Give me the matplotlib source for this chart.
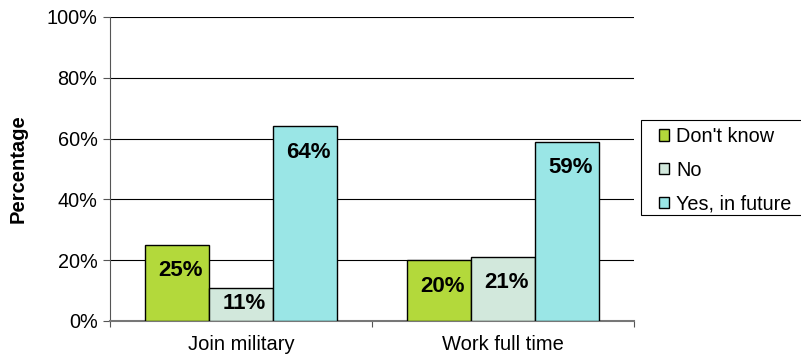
import matplotlib
matplotlib.use("Agg")
import matplotlib.pyplot as plt
from matplotlib.patches import Rectangle
import numpy as np

plt.rcParams["font.family"] = ["Liberation Sans", "DejaVu Sans"]

categories = ["Join military", "Work full time"]
series = ["Don't know", "No", "Yes, in future"]
dont_know = [25, 20]
no = [11, 21]
yes_future = [64, 59]
values = [dont_know, no, yes_future]
colors = ["#b3d93b", "#d2e8dc", "#9ae6e6"]

fig = plt.figure(figsize=(8.01, 3.62), dpi=100)
ax = fig.add_axes([110 / 801, 41 / 362, 524 / 801, 304 / 362])

x = np.arange(len(categories)) + 0.5
width = 64 / 262
for i, (name, vals, col) in enumerate(zip(series, values, colors)):
    xs = x + (i - 1) * width
    ax.bar(xs, vals, width, color=col, edgecolor="black", linewidth=1,
           label=name, zorder=3)
    for xi, v in zip(xs, vals):
        ax.text(xi + 0.012, max(v - 8.5, 5.9), f"{v}%", ha="center", va="center",
                fontsize=16, fontweight="bold", zorder=4)

ax.set_xlim(0, 2)
ax.set_ylim(0, 100)
ax.set_yticks(np.arange(0, 101, 20))
ax.set_yticklabels([f"{t}%" for t in range(0, 101, 20)], fontsize=14.3)
ax.yaxis.grid(True, color="black", linewidth=0.8, zorder=0)
ax.set_axisbelow(True)

ax.set_xticks([0, 1, 2])
ax.set_xticklabels(["", "", ""])
ax.set_xticks(x, minor=True)
ax.set_xticklabels(categories, minor=True, fontsize=14.5)
ax.tick_params(axis="x", which="minor", length=0, pad=10)
ax.tick_params(axis="x", which="major", length=4, color="#555555")
ax.tick_params(axis="y", length=5, color="#555555", pad=4)

for s in ["top", "right"]:
    ax.spines[s].set_visible(False)
ax.spines["left"].set_color("#555555")
ax.spines["bottom"].set_color("#777777")
ax.spines["bottom"].set_linewidth(1.5)

ax.set_ylabel("Percentage", fontsize=14.5, fontweight="bold", labelpad=14)

# legend box runs off the right edge, like the original export
fig.patches.append(Rectangle((641 / 801, 1 - 215 / 362), 170 / 801, 95 / 362,
                             transform=fig.transFigure, facecolor="white",
                             edgecolor="black", linewidth=0.8, zorder=1))
leg = fig.legend(loc="upper left", bbox_to_anchor=(659 / 801, 1 - 127 / 362),
                 fontsize=14.3, frameon=False,
                 handlelength=0.5, handleheight=0.5, handletextpad=0.35,
                 labelspacing=0.74, borderpad=0, borderaxespad=0)
leg.set_zorder(2)

fig.savefig("out.png", dpi=100)
